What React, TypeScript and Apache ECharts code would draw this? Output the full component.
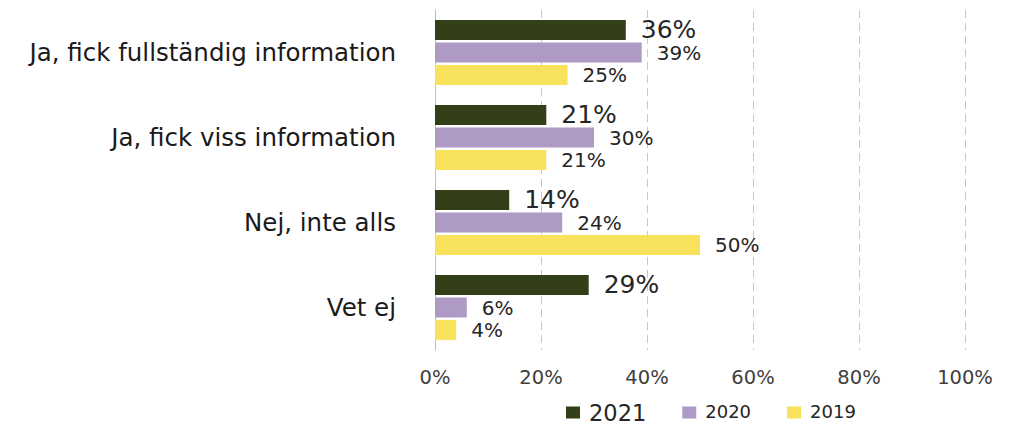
import React, { useEffect, useRef } from "react";
import * as echarts from "echarts";

const categories = [
  "Ja, fick fullständig information",
  "Ja, fick viss information",
  "Nej, inte alls",
  "Vet ej",
];
const seriesNames = ["2021", "2020", "2019"];
const values2021 = [36, 21, 14, 29];
const values2020 = [39, 30, 24, 6];
const values2019 = [25, 21, 50, 4];
const xTicks = [0, 20, 40, 60, 80, 100];

const colors = ["#333f17", "#ae9ac5", "#f9e25b"];
const FONT = "DejaVu Sans";

export default function App() {
  const ref = useRef<HTMLDivElement>(null);
  useEffect(() => {
    document.body.style.margin = "0";
    const chart = echarts.init(ref.current!, null, { renderer: "svg" });
    const mk = (name: string, data: number[], i: number, fs: number, lh: number, dy: number) => ({
      name,
      type: "bar",
      data,
      barWidth: 20,
      barGap: "12%",
      itemStyle: { color: colors[i] },
      label: {
        show: true,
        position: "right",
        distance: 15,
        offset: [0, dy],
        formatter: "{c}%",
        fontFamily: FONT,
        fontSize: fs,
        lineHeight: lh,
        color: "#262626",
      },
    });
    chart.setOption({
      animation: false,
      textStyle: { fontFamily: FONT },
      grid: { left: 435, right: 53, top: 10, bottom: 75 },
      xAxis: {
        type: "value",
        min: xTicks[0],
        max: xTicks[xTicks.length - 1],
        interval: 20,
        axisLine: { show: false },
        axisTick: { show: false },
        axisLabel: {
          formatter: "{value}%",
          fontFamily: FONT,
          fontSize: 19.5,
          color: "#404040",
          margin: 17,
        },
        splitLine: {
          show: true,
          lineStyle: { type: [8, 5], color: "#c8c8c8", width: 1 },
        },
      },
      yAxis: {
        type: "category",
        data: categories,
        inverse: true,
        axisLine: { show: true, lineStyle: { color: "#bfbfbf", width: 1 } },
        axisTick: { show: false },
        axisLabel: {
          fontFamily: FONT,
          fontSize: 24.5,
          color: "#1a1a1a",
          margin: 39,
        },
      },
      legend: {
        data: seriesNames,
        left: 566,
        top: 401,
        padding: 0,
        itemWidth: 14,
        itemHeight: 12,
        itemGap: 36,
        icon: "rect",
        formatter: (n: string) => (n === "2021" ? `{big|${n}}` : `{small|${n}}`),
        textStyle: {
          fontFamily: FONT,
          color: "#262626",
          rich: {
            big: { fontSize: 22.5, lineHeight: 22, fontFamily: FONT, color: "#262626", padding: [0, 0, 0, 4] },
            small: { fontSize: 18, lineHeight: 18, fontFamily: FONT, color: "#262626", padding: [0, 0, 3, 4] },
          },
        },
      },
      series: [
        mk(seriesNames[0], values2021, 0, 25, 20, -1),
        mk(seriesNames[1], values2020, 1, 20, 18, 0),
        mk(seriesNames[2], values2019, 2, 20, 18, 0),
      ],
    });
    return () => chart.dispose();
  }, []);
  return <div ref={ref} style={{ width: 1018, height: 425 }} />;
}
